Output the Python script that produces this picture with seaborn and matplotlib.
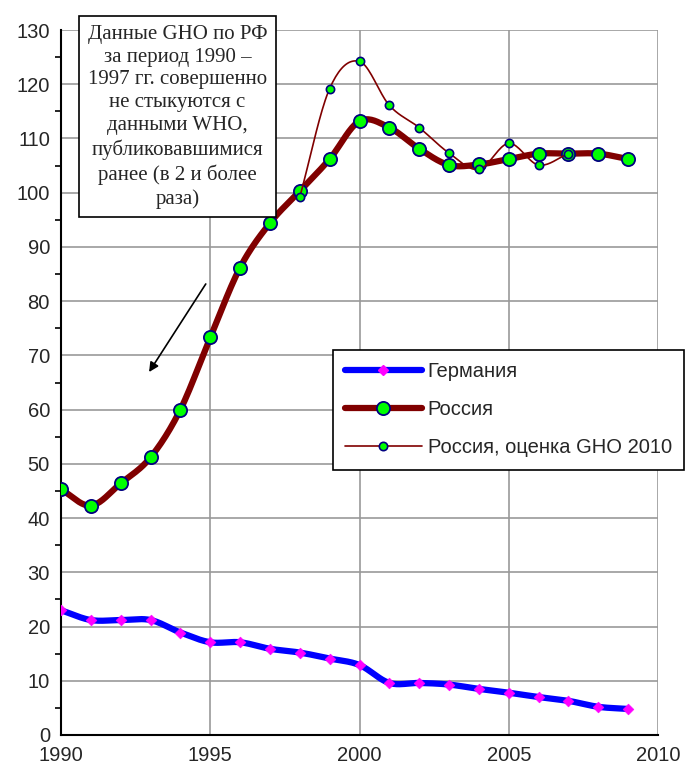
import numpy as np
import pandas as pd
import matplotlib.pyplot as plt
import seaborn as sns
from matplotlib.lines import Line2D

# values
years = list(range(1990, 2010))
germany = [23.0, 21.2, 21.2, 21.2, 18.9, 17.1, 17.1, 15.9, 15.2, 14.1,
           12.9, 9.6, 9.6, 9.3, 8.5, 7.8, 7.0, 6.3, 5.2, 4.8]
russia = [45.3, 42.3, 46.4, 51.2, 60.0, 73.3, 86.2, 94.4, 100.3, 106.2,
          113.2, 112.0, 108.1, 105.1, 105.2, 106.2, 107.2, 107.2, 107.2, 106.2]
gho_years = list(range(1998, 2008))
russia_gho = [99.2, 119.2, 124.2, 116.1, 112.0, 107.3, 104.3, 109.1, 105.1, 107.2]

labels = ["Германия", "Россия", "Россия, оценка GHO 2010"]
note = ("Данные GHO по РФ\nза период 1990 –\n1997 гг. совершенно\nне стыкуются с\n"
        "данными WHO,\nпубликовавшимися\nранее (в 2 и более\nраза)")


def smooth(x, y, n=20):
    # Excel-style smoothed line (Catmull-Rom through the points)
    x = np.asarray(x, float)
    y = np.asarray(y, float)
    px = np.concatenate([[2 * x[0] - x[1]], x, [2 * x[-1] - x[-2]]])
    py = np.concatenate([[2 * y[0] - y[1]], y, [2 * y[-1] - y[-2]]])
    xs, ys = [], []
    t = np.linspace(0, 1, n, endpoint=False)
    for i in range(1, len(px) - 2):
        for p, out in ((px, xs), (py, ys)):
            p0, p1, p2, p3 = p[i - 1], p[i], p[i + 1], p[i + 2]
            out.extend(0.5 * (2 * p1 + (-p0 + p2) * t
                              + (2 * p0 - 5 * p1 + 4 * p2 - p3) * t ** 2
                              + (-p0 + 3 * p1 - 3 * p2 + p3) * t ** 3))
    xs.append(x[-1])
    ys.append(y[-1])
    return pd.DataFrame({"year": xs, "value": ys})


sns.set_style("white")
plt.rcParams["font.family"] = ["Liberation Sans", "DejaVu Sans"]

fig = plt.figure(figsize=(6.87, 7.69), dpi=100)
ax = fig.add_axes([61 / 687, 34 / 769, 597 / 687, 705 / 769])

sns.lineplot(data=smooth(years, germany), x="year", y="value", ax=ax,
             color="#0000ff", lw=4.5, sort=False, zorder=3)
sns.scatterplot(x=years, y=germany, ax=ax, marker="D", s=30, color="#ff00ff",
                edgecolor="#ff00ff", zorder=4)

sns.lineplot(data=smooth(years, russia), x="year", y="value", ax=ax,
             color="#800000", lw=4.5, sort=False, zorder=3)
sns.scatterplot(x=years, y=russia, ax=ax, s=90, color="#00ff00",
                edgecolor="#000080", linewidth=1.3, zorder=4)

sns.lineplot(data=smooth(gho_years, russia_gho), x="year", y="value", ax=ax,
             color="#800000", lw=1.2, sort=False, zorder=5)
sns.scatterplot(x=gho_years, y=russia_gho, ax=ax, s=35, color="#00ff00",
                edgecolor="#000080", linewidth=1.2, zorder=6)

ax.set_xlim(1990, 2010)
ax.set_ylim(0, 130)
ax.set_xticks(range(1990, 2011, 5))
ax.set_yticks(range(0, 131, 10))
ax.set_yticks(range(5, 130, 10), minor=True)
ax.grid(True, color="#999999", lw=1.2)
ax.set_axisbelow(True)
ax.set_xlabel("")
ax.set_ylabel("")
for s in ["top", "right"]:
    ax.spines[s].set_visible(False)
for s in ["left", "bottom"]:
    ax.spines[s].set_color("black")
    ax.spines[s].set_linewidth(1.5)
ax.tick_params(axis="both", which="major", direction="inout", length=8,
               width=1.2, labelsize=14.5, color="black", pad=4)
ax.tick_params(axis="y", which="minor", direction="out", length=4,
               width=1.2, color="black", left=True)

ax.text(1993.9, 114.0, note, ha="center", va="center", fontsize=15,
        family=["Liberation Serif", "DejaVu Serif"], linespacing=1.28,
        bbox=dict(boxstyle="square,pad=0.4", fc="white", ec="black", lw=1.2),
        zorder=10)
ax.annotate("", xy=(1992.9, 66.5), xytext=(1994.9, 83.6),
            arrowprops=dict(arrowstyle="-|>", color="black", lw=1.2,
                            mutation_scale=14))

handles = [
    Line2D([], [], color="#0000ff", lw=4.5, marker="D", ms=5,
           mfc="#ff00ff", mec="#ff00ff"),
    Line2D([], [], color="#800000", lw=4.5, marker="o", ms=9.5,
           mfc="#00ff00", mec="#000080", mew=1.3),
    Line2D([], [], color="#800000", lw=1.2, marker="o", ms=6,
           mfc="#00ff00", mec="#000080", mew=1.2),
]
leg = ax.legend(handles, labels, loc="upper left",
                bbox_to_anchor=(0.4556, 0.546), borderaxespad=0,
                fontsize=14.5, handlelength=3.8,
                labelspacing=0.95, borderpad=0.6, handletextpad=0.3,
                fancybox=False, framealpha=1, edgecolor="black")
leg.get_frame().set_linewidth(1.2)
leg.set_clip_on(False)

fig.savefig("out.png", dpi=100)
